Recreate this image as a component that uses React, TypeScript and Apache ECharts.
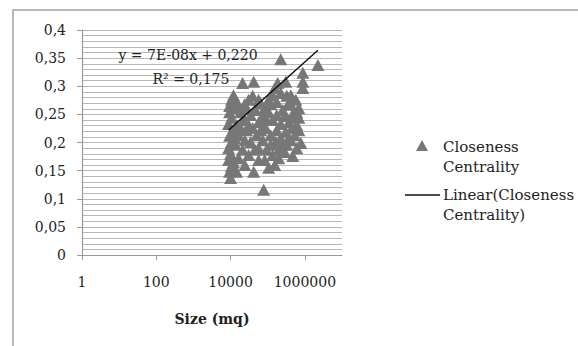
import React, { useEffect, useRef } from "react";
import * as echarts from "echarts";

// Scatter data: [size (mq), closeness centrality]
const sizes: number[] = [
  224000, 2250000, 883000, 883000, 883000, 21100, 41900, 186000, 306000, 155000,
  224000, 418000, 571000, 689000, 347000, 175000, 106000, 64800, 30600, 15400,
  10600, 9400, 9400, 10600, 8830, 11300, 9400, 10600, 8830, 10000,
  8830, 10600, 9400, 10000, 12000, 13600, 14500, 18600, 22300, 27000,
  24200, 16400, 34600, 46900, 56800, 73100, 88300, 106000, 136000, 175000,
  224000, 287000, 370000, 473000, 605000, 500000, 120000, 165000, 224000, 306000,
  418000, 73100, 50400, 34600, 56800, 92900, 136000, 198000, 287000, 473000,
  780000, 41900, 78000, 30600, 44600, 21100, 16400, 325000, 120000, 82800,
  155000, 689000, 533000, 27000, 56800, 18600, 12800, 12800, 689000,
  12000, 23900, 39300, 82800, 120000, 254000, 418000, 605000, 64800, 94000,
  39300, 175000, 254000, 370000, 605000, 30600, 56800, 106000, 24200, 14500,
  198000, 447000, 136000, 325000,
];
const closeness: number[] = [
  0.348, 0.338, 0.324, 0.308, 0.297, 0.306, 0.308, 0.306, 0.308, 0.297,
  0.288, 0.284, 0.276, 0.261, 0.267, 0.272, 0.276, 0.27, 0.276, 0.27,
  0.276, 0.265, 0.254, 0.244, 0.233, 0.222, 0.212, 0.201, 0.19, 0.18,
  0.169, 0.158, 0.148, 0.137, 0.165, 0.196, 0.231, 0.254, 0.24, 0.222,
  0.204, 0.213, 0.249, 0.258, 0.236, 0.247, 0.226, 0.254, 0.24, 0.249,
  0.233, 0.247, 0.236, 0.244, 0.231, 0.254, 0.213, 0.201, 0.208, 0.219,
  0.204, 0.204, 0.213, 0.201, 0.19, 0.187, 0.178, 0.172, 0.183, 0.176,
  0.199, 0.148, 0.116, 0.231, 0.187, 0.187, 0.172, 0.196, 0.196, 0.169,
  0.16, 0.222, 0.213, 0.261, 0.276, 0.226, 0.261, 0.208, 0.244,
  0.284, 0.268, 0.283, 0.261, 0.268, 0.258, 0.268, 0.254, 0.222, 0.24,
  0.226, 0.222, 0.196, 0.208, 0.19, 0.178, 0.169, 0.155, 0.16, 0.148,
  0.187, 0.226, 0.284, 0.283,
];

// Linear trendline end points as drawn
const trendX: number[] = [8830, 2250000];
const trendY: number[] = [0.222, 0.364];

const xTickLabels: number[] = [1, 100, 10000, 1000000];

const FONT = "DejaVu Serif";
const TEXT = "#222222";
const GRID = "#b8b8b8";

export default function App() {
  const ref = useRef<HTMLDivElement>(null);

  useEffect(() => {
    if (!ref.current) return;
    const chart = echarts.init(ref.current, undefined, { renderer: "svg" });
    const scatterData = sizes.map((s, i) => [s, closeness[i]]);
    const trendData = trendX.map((x, i) => [x, trendY[i]]);

    chart.setOption({
      animation: false,
      backgroundColor: "#ffffff",
      grid: { left: 82, top: 30, width: 260, height: 225 },
      xAxis: {
        type: "log",
        logBase: 100,
        min: 1,
        max: 10000000,
        axisLine: { show: true, lineStyle: { color: "#999999", width: 1.2 } },
        axisTick: { show: true, length: 5, lineStyle: { color: "#999999" } },
        splitLine: { show: false },
        axisLabel: {
          margin: 20,
          showMaxLabel: false,
          color: TEXT,
          fontFamily: FONT,
          fontSize: 14,
          formatter: (v: number) => {
            const r = Math.round(v);
            return xTickLabels.indexOf(r) >= 0 ? String(r) : "";
          },
        },
        name: "Size (mq)",
        nameLocation: "middle",
        nameGap: 57,
        nameTextStyle: { color: TEXT, fontFamily: FONT, fontSize: 14, fontWeight: "bold" },
      },
      yAxis: {
        type: "value",
        min: 0,
        max: 0.4,
        interval: 0.05,
        axisLine: { show: true, lineStyle: { color: "#999999", width: 1.2 } },
        axisTick: { show: true, length: 5, lineStyle: { color: "#999999" } },
        splitLine: { show: true, lineStyle: { color: GRID, width: 1.2 } },
        minorTick: { show: false, splitNumber: 5 },
        minorSplitLine: { show: true, lineStyle: { color: GRID, width: 1.2 } },
        axisLabel: {
          margin: 16,
          color: TEXT,
          fontFamily: FONT,
          fontSize: 14,
          formatter: (v: number) => String(Math.round(v * 100) / 100).replace(".", ","),
        },
      },
      series: [
        {
          name: "Closeness Centrality",
          type: "scatter",
          symbol: "triangle",
          symbolSize: [13, 12],
          itemStyle: { color: "#777777", opacity: 1 },
          data: scatterData,
          z: 2,
        },
        {
          name: "Linear(Closeness Centrality)",
          type: "line",
          symbol: "none",
          lineStyle: { color: "#111111", width: 1.5 },
          data: trendData,
          z: 3,
        },
      ],
      graphic: [
        {
          type: "rect",
          shape: { x: 13, y: 10, width: 600, height: 400 },
          style: { fill: "none", stroke: "#b8b8b8", lineWidth: 2 },
          silent: true,
        },
        {
          type: "text",
          x: 188,
          y: 55,
          style: {
            text: "y = 7E-08x + 0,220",
            fill: TEXT,
            font: `14px "${FONT}"`,
            textAlign: "center",
            textVerticalAlign: "middle",
          },
          z: 10,
        },
        {
          type: "text",
          x: 191,
          y: 79,
          style: {
            text: "R² = 0,175",
            fill: TEXT,
            font: `14px "${FONT}"`,
            textAlign: "center",
            textVerticalAlign: "middle",
          },
          z: 10,
        },
        {
          type: "polygon",
          shape: { points: [[416, 151], [428, 151], [422, 140]] },
          style: { fill: "#777777" },
        },
        {
          type: "text",
          x: 443,
          y: 137,
          style: {
            text: "Closeness\nCentrality",
            fill: TEXT,
            font: `15px "${FONT}"`,
            lineHeight: 20,
          },
        },
        {
          type: "line",
          shape: { x1: 405, y1: 195, x2: 440, y2: 195 },
          style: { stroke: "#111111", lineWidth: 1.5 },
        },
        {
          type: "text",
          x: 443,
          y: 185,
          style: {
            text: "Linear(Closeness\nCentrality)",
            fill: TEXT,
            font: `15px "${FONT}"`,
            lineHeight: 20,
          },
        },
      ],
    });

    return () => chart.dispose();
  }, []);

  return <div ref={ref} style={{ width: 578, height: 346, position: "absolute", left: 0, top: 0 }} />;
}
